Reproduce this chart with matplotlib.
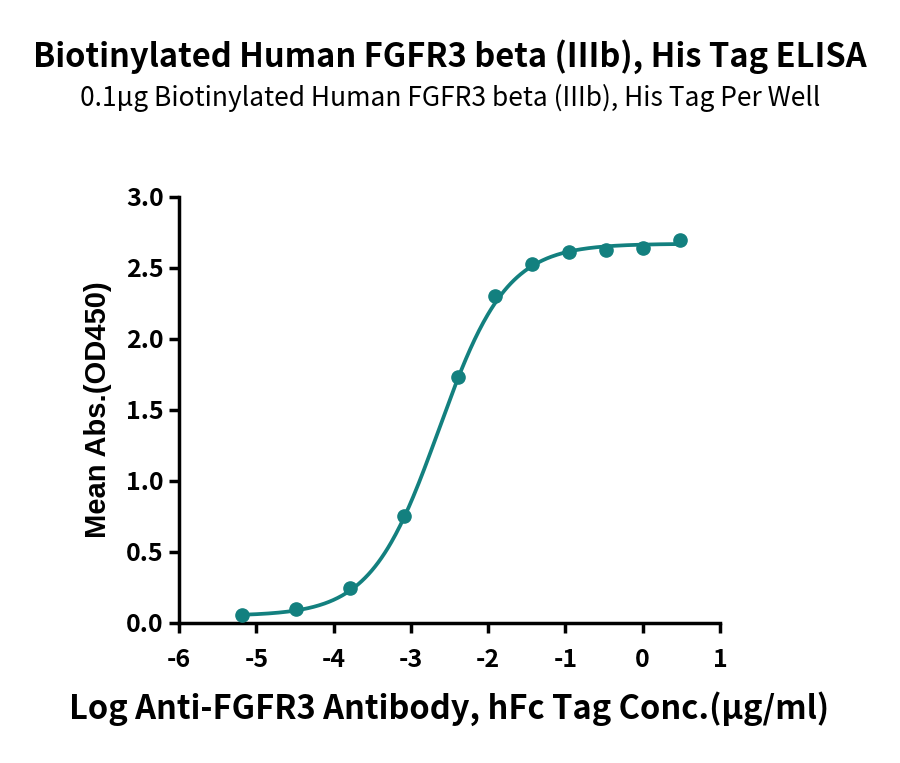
import numpy as np
import matplotlib
matplotlib.use("Agg")
import matplotlib.pyplot as plt

# Data (log concentration, ug/ml) and mean absorbance
log_conc = [0.477, 0.0, -0.477, -0.954, -1.431, -1.908, -2.386, -3.085, -3.784, -4.483, -5.182]
mean_abs = [2.694, 2.642, 2.628, 2.609, 2.525, 2.299, 1.734, 0.753, 0.247, 0.099, 0.059]

# 4PL fit parameters
fit_bottom = 0.05
fit_top = 2.67
fit_logec50 = -2.64
fit_hill = 0.99

x_ticks = [-6, -5, -4, -3, -2, -1, 0, 1]
y_ticks = [0.0, 0.5, 1.0, 1.5, 2.0, 2.5, 3.0]

color = "#13807f"
cjk = ["Noto Sans CJK SC", "DejaVu Sans"]

fig = plt.figure(figsize=(9, 7.63), dpi=100)
ax = fig.add_axes([0.199, 0.1835, 0.601, 0.5585])

xf = np.linspace(min(log_conc), max(log_conc), 400)
yf = fit_bottom + (fit_top - fit_bottom) / (1 + 10 ** ((fit_logec50 - xf) * fit_hill))
ax.plot(xf, yf, color=color, lw=2.7, zorder=2, clip_on=False)
ax.plot(log_conc, mean_abs, "o", color=color, ms=9.5, zorder=3, clip_on=False)

ax.set_xlim(-6, 1)
ax.set_ylim(0, 3.0)
ax.set_xticks(x_ticks)
ax.set_yticks(y_ticks)
ax.set_xticklabels([str(v) for v in x_ticks], fontfamily=cjk, fontweight="bold", fontsize=18)
ax.set_yticklabels([f"{v:.1f}" for v in y_ticks], fontfamily=cjk, fontweight="bold", fontsize=18)
for s in ["top", "right"]:
    ax.spines[s].set_visible(False)
for s in ["left", "bottom"]:
    ax.spines[s].set_linewidth(2.5)
ax.tick_params(axis="both", direction="out", length=7, width=2.5)
ax.tick_params(axis="x", pad=11)
ax.tick_params(axis="y", pad=4)

ax.set_ylabel("Mean Abs.(OD450)", fontfamily=["Liberation Sans", "DejaVu Sans"], fontweight="bold", fontsize=21, labelpad=10)
ax.set_xlabel("Log Anti-FGFR3 Antibody, hFc Tag Conc.(μg/ml)", fontfamily=cjk, fontweight="bold", fontsize=23.5, labelpad=14)

fig.text(0.5, 0.926, "Biotinylated Human FGFR3 beta (IIIb), His Tag ELISA", ha="center", va="center",
         fontfamily=cjk, fontweight="bold", fontsize=23.5)
fig.text(0.5, 0.871, "0.1μg Biotinylated Human FGFR3 beta (IIIb), His Tag Per Well", ha="center", va="center",
         fontfamily=cjk, fontsize=19)

fig.savefig("out.png", dpi=100)
